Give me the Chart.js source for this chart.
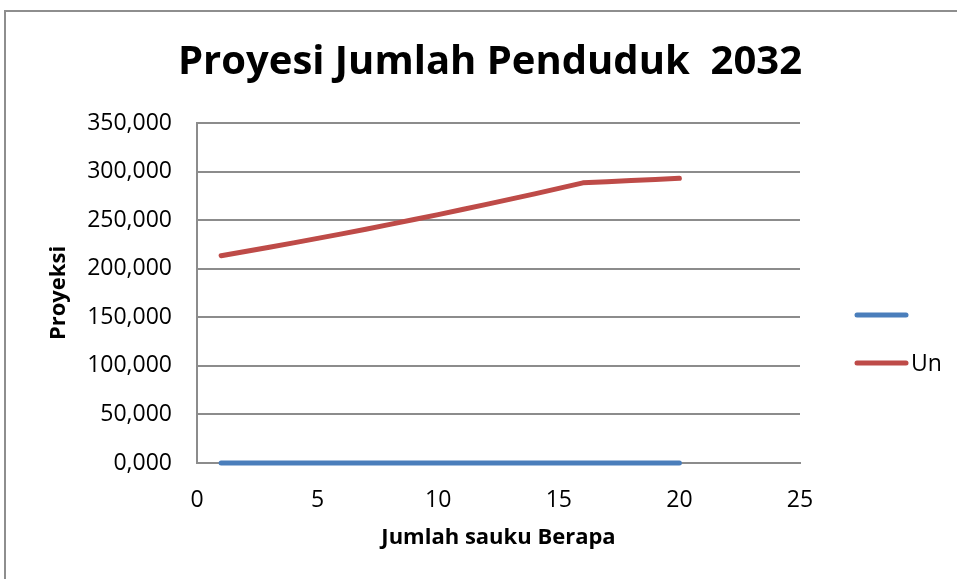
<!DOCTYPE html>
<html>
<head>
<meta charset="utf-8">
<script src="https://cdn.jsdelivr.net/npm/chart.js@4/dist/chart.umd.min.js"></script>
<style>
    html, body { margin: 0; padding: 0; background: #fff; overflow: hidden; }
    #frame {
        position: absolute; left: 4px; top: 10px;
        width: 1000px; height: 1000px;
        border: 2px solid #8e8e8e;
    }
    #wrap { position: absolute; left: 0; top: 0; width: 957px; height: 579px; }
</style>
</head>
<body>
<div id="frame"></div>
<div id="wrap"><canvas id="proyeksiChart" width="957" height="579"></canvas></div>
<script>
    // Data
    const tahunKe = [1, 2, 3, 4, 5, 6, 7, 8, 9, 10, 11, 12, 13, 14, 15, 16, 17, 18, 19, 20];
    const seriBiru = [0, 0, 0, 0, 0, 0, 0, 0, 0, 0, 0, 0, 0, 0, 0, 0, 0, 0, 0, 0];
    const seriUn = [213400, 217700, 222100, 226600, 231200, 235900, 240700, 245600, 250600, 255700,
                    260900, 266200, 271600, 277100, 282700, 288400, 289600, 290700, 291900, 293100];
    const labelSeri = ['', 'Un'];
    const judul = 'Proyesi Jumlah Penduduk  2032';
    const judulX = 'Jumlah sauku Berapa';
    const judulY = 'Proyeksi';
    const xTicks = [0, 5, 10, 15, 20, 25];
    const yTicks = [0, 50000, 100000, 150000, 200000, 250000, 300000, 350000];

    const GRID = '#8c8c8c';
    const FONT = "'Open Sans', sans-serif";
    const PAD_KIRI = 23;

    function _toPoints(xs, ys){
        var pts = [];
        for (var i = 0; i < xs.length; i++) {
            pts.push({x: xs[i], y: ys[i]});
        }
        return pts;
    }

    // legend ala excel, digambar di kanan
    const sideLegend = {
        id: 'sideLegend',
        afterDraw(chart, args, opts) {
            const ctx = chart.ctx;
            ctx.save();
            chart.data.datasets.forEach(function(ds, i) {
                var y = opts.y + i * opts.gap;
                ctx.beginPath();
                ctx.strokeStyle = ds.borderColor;
                ctx.lineWidth = ds.borderWidth;
                ctx.lineCap = 'round';
                ctx.moveTo(opts.x, y);
                ctx.lineTo(opts.x + opts.lineLength, y);
                ctx.stroke();
                ctx.fillStyle = '#000';
                ctx.font = opts.font;
                ctx.textBaseline = 'middle';
                ctx.fillText(ds.label, opts.x + opts.lineLength + 5, y + 1);
            });
            ctx.restore();
        }
    };

    const config = {
        type: 'line',
        data: {
            datasets: [{
                label: labelSeri[0],
                data: _toPoints(tahunKe, seriBiru),
                borderColor: '#4a7ebb',
                backgroundColor: '#4a7ebb',
                borderWidth: 5,
                borderCapStyle: 'round',
                pointRadius: 0,
                tension: 0,
                clip: false
            }, {
                label: labelSeri[1],
                data: _toPoints(tahunKe, seriUn),
                borderColor: '#be4b48',
                backgroundColor: '#be4b48',
                borderWidth: 5,
                borderCapStyle: 'round',
                borderJoinStyle: 'round',
                pointRadius: 0,
                tension: 0,
                clip: false
            }]
        },
        options: {
            responsive: false,
            animation: false,
            layout: { padding: { left: PAD_KIRI, right: 0, top: 0, bottom: 0 } },
            plugins: {
                legend: { display: false },
                tooltip: { enabled: false },
                title: {
                    display: true,
                    text: judul,
                    color: '#000',
                    font: { family: FONT, size: 40, weight: 'bold' },
                    padding: { top: 39, bottom: 36 }
                },
                sideLegend: {
                    x: 857, y: 315, gap: 48, lineLength: 49,
                    font: "23px 'Open Sans', sans-serif"
                }
            },
            scales: {
                x: {
                    type: 'linear',
                    min: 0, max: 25,
                    afterBuildTicks: function(s){ s.ticks = xTicks.map(function(v){ return {value: v}; }); },
                    afterFit: function(s){ s.height = 579 - 463; },
                    grid: { display: false },
                    border: { display: true, color: GRID, width: 2 },
                    ticks: { color: '#000', padding: 16, font: { family: FONT, size: 23 } },
                    title: {
                        display: true, text: judulX, color: '#000',
                        font: { family: FONT, size: 22, weight: 'bold' },
                        padding: { top: 0, bottom: 28 }
                    }
                },
                y: {
                    min: 0, max: 350000,
                    afterBuildTicks: function(s){ s.ticks = yTicks.map(function(v){ return {value: v}; }); },
                    afterFit: function(s){ s.width = 197 - PAD_KIRI; },
                    grid: { color: GRID, lineWidth: 2, drawTicks: false },
                    border: { display: true, color: GRID, width: 2 },
                    ticks: {
                        color: '#000', padding: 25, font: { family: FONT, size: 23 },
                        callback: function(v){ return Math.floor(v / 1000) + ',000'; }
                    },
                    title: {
                        display: true, text: judulY, color: '#000',
                        font: { family: FONT, size: 22, weight: 'bold' },
                        padding: { top: 23, bottom: 0 }
                    }
                },
                // ruang kosong untuk legend di kanan
                ruangLegend: {
                    type: 'linear',
                    position: 'right',
                    display: true,
                    afterFit: function(s){ s.width = 957 - 800; },
                    grid: { display: false, drawOnChartArea: false },
                    border: { display: false },
                    ticks: { display: false }
                }
            }
        },
        plugins: [sideLegend]
    };

    new Chart(document.getElementById('proyeksiChart'), config);
</script>
</body>
</html>
